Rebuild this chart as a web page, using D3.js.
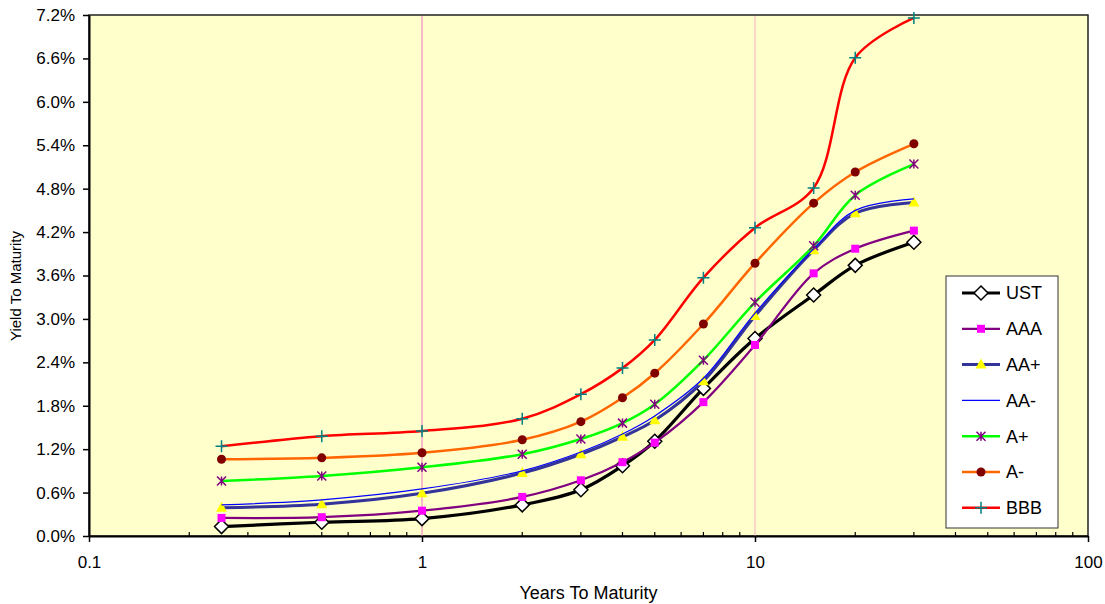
<!DOCTYPE html>
<html>
<head>
<meta charset="utf-8">
<script src="https://cdn.jsdelivr.net/npm/d3@7"></script>
<style>
  body { margin: 0; background: #fff; }
  text { font-family: Arial, "Liberation Sans", sans-serif; fill: #000; }
</style>
</head>
<body>
<div id="chart-div"></div>
<script>
// maturities in years
var maturities = [0.25, 0.5, 1, 2, 3, 4, 5, 7, 10, 15, 20, 30];

// yields in percent
var ust   = [0.13, 0.19, 0.24, 0.43, 0.64, 0.97, 1.31, 2.04, 2.73, 3.33, 3.74, 4.06];
var aaa   = [0.25, 0.26, 0.35, 0.54, 0.77, 1.02, 1.29, 1.85, 2.64, 3.63, 3.97, 4.22];
var aaPlus  = [0.39, 0.44, 0.59, 0.87, 1.13, 1.37, 1.60, 2.14, 3.04, 3.95, 4.46, 4.61];
var aaMinus = [0.43, 0.50, 0.65, 0.90, 1.16, 1.41, 1.66, 2.18, 3.08, 3.97, 4.50, 4.66];
var aPlus  = [0.76, 0.83, 0.95, 1.13, 1.34, 1.56, 1.82, 2.43, 3.23, 4.01, 4.71, 5.14];
var aMinus = [1.06, 1.08, 1.15, 1.33, 1.58, 1.91, 2.25, 2.93, 3.77, 4.60, 5.03, 5.42];
var bbb   = [1.24, 1.38, 1.45, 1.62, 1.96, 2.32, 2.71, 3.57, 4.26, 4.81, 6.61, 7.16];

var seriesNames = ["UST", "AAA", "AA+", "AA-", "A+", "A-", "BBB"];
var xTicks = [0.1, 1, 10, 100];
var yTicks = [0, 0.6, 1.2, 1.8, 2.4, 3.0, 3.6, 4.2, 4.8, 5.4, 6.0, 6.6, 7.2];

var width = 1105;
var height = 604;
var plotLeft = 89, plotRight = 1088, plotTop = 15, plotBottom = 536;

var series = [
    { name: seriesNames[0], values: ust,     color: "#000000", width: 3.2, marker: "diamond" },
    { name: seriesNames[1], values: aaa,     color: "#800080", width: 2.2, marker: "square" },
    { name: seriesNames[2], values: aaPlus,  color: "#333399", width: 3,   marker: "triangle" },
    { name: seriesNames[3], values: aaMinus, color: "#0000FF", width: 1.2, marker: null },
    { name: seriesNames[4], values: aPlus,   color: "#00FF00", width: 2.5, marker: "star" },
    { name: seriesNames[5], values: aMinus,  color: "#FF6600", width: 2.5, marker: "circle" },
    { name: seriesNames[6], values: bbb,     color: "#FF0000", width: 2.5, marker: "plus" }
];

var x = d3.scaleLog().domain([0.1, 100]).range([plotLeft, plotRight]);
var y = d3.scaleLinear().domain([0, 7.2]).range([plotBottom, plotTop]);

var svg = d3.select("#chart-div")
    .append("svg")
    .attr("width", width)
    .attr("height", height);

// plot background
svg.append("rect")
    .attr("x", plotLeft).attr("y", plotTop)
    .attr("width", plotRight - plotLeft).attr("height", plotBottom - plotTop)
    .style("fill", "#FFFFCC")
    .style("stroke", "#222")
    .style("stroke-width", 1.5);

// vertical gridlines at 1 and 10
svg.selectAll("line.grid")
    .data([1, 10])
    .enter()
    .append("line")
    .attr("class", "grid")
    .attr("x1", function (d) { return x(d); })
    .attr("x2", function (d) { return x(d); })
    .attr("y1", plotTop + 1)
    .attr("y2", plotBottom)
    .style("stroke", "#F8BCC8")
    .style("stroke-width", function (d) { return d == 1 ? 2 : 1.2; });

// y axis
var yAxis = d3.axisLeft(y)
    .tickValues(yTicks)
    .tickSize(6)
    .tickSizeOuter(0)
    .tickFormat(function (d) { return d.toFixed(1) + "%"; });

var gy = svg.append("g")
    .attr("transform", "translate(" + plotLeft + ",0)")
    .call(yAxis);
gy.select(".domain").style("stroke", "#000").style("stroke-width", 2);
gy.selectAll(".tick line").style("stroke", "#000").style("stroke-width", 1.5);
gy.selectAll(".tick text").attr("x", -14).style("font-size", "17px").style("font-family", "Arial, 'Liberation Sans', sans-serif");

// x axis
var xAxis = d3.axisBottom(x)
    .tickValues(xTicks)
    .tickSize(6)
    .tickSizeOuter(0)
    .tickFormat(function (d) { return d < 1 ? d.toFixed(1) : d3.format("d")(d); });

var gx = svg.append("g")
    .attr("transform", "translate(0," + plotBottom + ")")
    .call(xAxis);
gx.select(".domain").style("stroke", "#000").style("stroke-width", 2);
gx.selectAll(".tick line").style("stroke", "#000").style("stroke-width", 1.5);
gx.selectAll(".tick text").attr("y", 20).style("font-size", "17px").style("font-family", "Arial, 'Liberation Sans', sans-serif");

// minor ticks pointing into the plot
var minor = x.ticks().filter(function (d) { return xTicks.indexOf(d) < 0; });
gx.selectAll("line.minor")
    .data(minor)
    .enter()
    .append("line")
    .attr("class", "minor")
    .attr("x1", function (d) { return x(d); })
    .attr("x2", function (d) { return x(d); })
    .attr("y1", 0)
    .attr("y2", -4)
    .style("stroke", "#000")
    .style("stroke-width", 1.2);

// axis titles
svg.append("text")
    .attr("x", (plotLeft + plotRight) / 2)
    .attr("y", 599)
    .attr("text-anchor", "middle")
    .style("font-size", "18px")
    .text("Years To Maturity");

svg.append("text")
    .attr("transform", "translate(21," + 286 + ") rotate(-90)")
    .attr("text-anchor", "middle")
    .style("font-size", "15px")
    .text("Yield To Maturity");

// markers
function drawMarker(g, type, cx, cy) {
    if (type == "diamond") {
        g.append("path")
            .attr("d", "M" + cx + "," + (cy - 7) + "L" + (cx + 7) + "," + cy + "L" + cx + "," + (cy + 7) + "L" + (cx - 7) + "," + cy + "Z")
            .style("fill", "#fff").style("stroke", "#000").style("stroke-width", 1.5);
    } else if (type == "square") {
        g.append("rect")
            .attr("x", cx - 4).attr("y", cy - 4).attr("width", 8).attr("height", 8)
            .style("fill", "#FF00FF");
    } else if (type == "triangle") {
        g.append("path")
            .attr("d", "M" + cx + "," + (cy - 6) + "L" + (cx + 5.5) + "," + (cy + 4) + "L" + (cx - 5.5) + "," + (cy + 4) + "Z")
            .style("fill", "#FFFF00");
    } else if (type == "star") {
        var s = 4.5;
        g.append("path")
            .attr("d", "M" + (cx - s) + "," + (cy - s) + "L" + (cx + s) + "," + (cy + s) +
                "M" + (cx - s) + "," + (cy + s) + "L" + (cx + s) + "," + (cy - s) +
                "M" + cx + "," + (cy - s) + "L" + cx + "," + (cy + s))
            .style("stroke", "#800080").style("stroke-width", 1.5).style("fill", "none");
    } else if (type == "circle") {
        g.append("circle")
            .attr("cx", cx).attr("cy", cy).attr("r", 4.5)
            .style("fill", "#800000");
    } else if (type == "plus") {
        var p = 6;
        g.append("path")
            .attr("d", "M" + (cx - p) + "," + cy + "L" + (cx + p) + "," + cy +
                "M" + cx + "," + (cy - p) + "L" + cx + "," + (cy + p))
            .style("stroke", "#008080").style("stroke-width", 1.5).style("fill", "none");
    }
}

var line = d3.line()
    .x(function (d) { return x(d[0]); })
    .y(function (d) { return y(d[1]); })
    .curve(d3.curveCatmullRom.alpha(0.5));

series.forEach(function (s) {
    var pts = maturities.map(function (m, i) { return [m, s.values[i]]; });
    var g = svg.append("g");
    g.append("path")
        .datum(pts)
        .attr("d", line)
        .style("fill", "none")
        .style("stroke", s.color)
        .style("stroke-width", s.width)
        .style("stroke-linejoin", "round");
    if (s.marker) {
        pts.forEach(function (p) { drawMarker(g, s.marker, x(p[0]), y(p[1])); });
    }
});

// legend
var legendBox = svg.append("g").attr("transform", "translate(946,276)");
legendBox.append("rect")
    .attr("width", 112).attr("height", 252)
    .style("fill", "#fff").style("stroke", "#333").style("stroke-width", 1);

var legend = legendBox.selectAll("g.item")
    .data(series)
    .enter()
    .append("g")
    .attr("class", "item")
    .attr("transform", function (d, i) { return "translate(0," + (17 + i * 35.8) + ")"; });

legend.append("line")
    .attr("x1", 16).attr("x2", 54)
    .attr("y1", 0).attr("y2", 0)
    .style("stroke", function (d) { return d.color; })
    .style("stroke-width", function (d) { return Math.min(d.width, 3); });

legend.each(function (d) {
    if (d.marker) drawMarker(d3.select(this), d.marker, 35, 0);
});

legend.append("text")
    .attr("x", 60)
    .attr("y", 0)
    .attr("dy", "0.36em")
    .style("font-size", "18px")
    .text(function (d) { return d.name; });
</script>
</body>
</html>
